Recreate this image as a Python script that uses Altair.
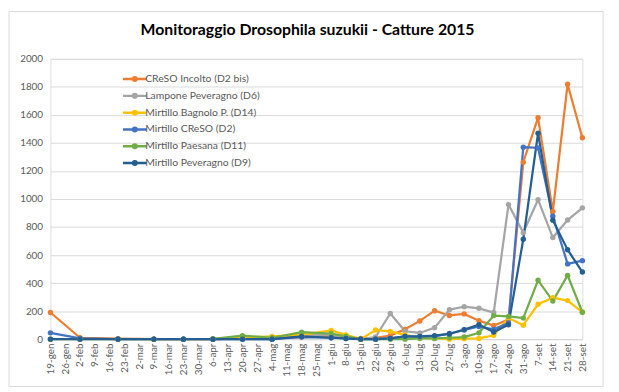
import json
import altair as alt
import pandas as pd

TITLE = "Monitoraggio Drosophila suzukii - Catture 2015"

TICK_LABELS = ["19-gen", "26-gen", "2-feb", "9-feb", "16-feb", "23-feb", "2-mar", "9-mar",
               "16-mar", "23-mar", "30-mar", "6-apr", "13-apr", "20-apr", "27-apr", "4-mag",
               "11-mag", "18-mag", "25-mag", "1-giu", "8-giu", "15-giu", "22-giu", "29-giu",
               "6-lug", "13-lug", "20-lug", "27-lug", "3-ago", "10-ago", "17-ago", "24-ago",
               "31-ago", "7-set", "14-set", "21-set", "28-set"]

# days after 19 January
DAYS = [0, 14, 32, 49, 63, 77, 91, 105, 119, 133, 140, 147, 154, 161, 168, 175, 182,
        189, 196, 203, 210, 217, 224, 231, 238, 245, 252]

SERIES = ["CReSO Incolto (D2 bis)", "Lampone Peveragno (D6)", "Mirtillo Bagnolo P. (D14)",
          "Mirtillo CReSO (D2)", "Mirtillo Paesana (D11)", "Mirtillo Peveragno (D9)"]
COLORS = ["#ED7D31", "#A5A5A5", "#FFC000", "#4472C4", "#70AD47", "#255E91"]

creso_incolto = [190, 10, 3, 0, 0, 0, 5, 5, 15, 20, 15, 5, 10, 25, 70, 130, 203, 169, 180,
                 132, 97, 140, 1263, 1580, 911, 1819, 1437]
lampone_peveragno = [None, None, None, None, None, 0, 5, 10, 30, 30, 10, 0, 15, 183, 56, 44,
                     82, 210, 232, 220, 190, 960, 760, 995, 725, 850, 937]
mirtillo_bagnolo = [None, None, None, None, None, 0, 10, 20, 30, 62, 30, 0, 65, 55, 30, 10,
                    5, 0, 3, 5, 28, 150, 100, 249, 296, 275, 192]
mirtillo_creso = [45, 5, 0, 0, 0, 0, 0, 0, 15, 10, 5, 0, 0, 5, 20, 15, 20, 40, 65, 90, 70,
                  115, 1370, 1365, 877, 537, 560]
mirtillo_paesana = [0, 0, 0, 0, 0, 2, 25, 10, 50, 40, 20, 0, 0, 0, 0, 5, 5, 10, 15, 45, 168,
                    162, 150, 420, 272, 455, 192]
mirtillo_peveragno = [0, 0, 0, 0, 0, 0, 0, 0, 20, 10, 5, 0, 0, 5, 20, 20, 25, 37, 68, 103,
                      51, 103, 713, 1469, 849, 638, 479]

values = [creso_incolto, lampone_peveragno, mirtillo_bagnolo, mirtillo_creso,
          mirtillo_paesana, mirtillo_peveragno]

rows = []
for si, (name, vals) in enumerate(zip(SERIES, values)):
    for d, v in zip(DAYS, vals):
        if v is not None:
            rows.append({"serie": name, "giorno": d, "catture": v, "ord": si})
df = pd.DataFrame(rows)

FONT = "Lato"
GREY_TXT = "#595959"

label_expr = json.dumps(TICK_LABELS) + "[round(datum.value / 7)]"

x = alt.X("giorno:Q",
          scale=alt.Scale(domain=[0, 252], nice=False, zero=False),
          axis=alt.Axis(title=None, values=list(range(0, 253, 7)), labelExpr=label_expr,
                        labelAngle=270, labelFontSize=10, labelColor=GREY_TXT, labelFont=FONT,
                        labelPadding=4, ticks=False, grid=False, domainColor="#D9D9D9",
                        labelOverlap=False))
y = alt.Y("catture:Q",
          scale=alt.Scale(domain=[0, 2000], nice=False),
          axis=alt.Axis(title=None, values=list(range(0, 2001, 200)), format="d",
                        labelFontSize=10, labelColor=GREY_TXT, labelFont=FONT, labelPadding=8,
                        ticks=False, domain=False, gridColor="#D9D9D9", gridWidth=1))
color = alt.Color("serie:N",
                  scale=alt.Scale(domain=SERIES, range=COLORS),
                  legend=alt.Legend(title=None, orient="none", legendX=78, legendY=13,
                                    symbolType="M-2,0L2,0M-0.3,0A0.3,0.3 0 1,1 0.3,0A0.3,0.3 0 1,1 -0.3,0",
                                    symbolSize=144, symbolStrokeWidth=2.5,
                                    labelFont=FONT, labelFontSize=10.5, labelColor=GREY_TXT,
                                    labelOffset=3, rowPadding=2, padding=0))

base = alt.Chart(df)
lines = base.mark_line(strokeWidth=2.25).encode(
    x=x, y=y, color=color, order=alt.Order("giorno:Q"), detail="ord:N")
points = base.mark_circle(size=30, opacity=1).encode(
    x=x, y=y, color=alt.Color("serie:N", scale=alt.Scale(domain=SERIES, range=COLORS),
                              legend=None))

border = alt.Chart(pd.DataFrame({"a": [0]})).mark_rect(
    fillOpacity=0, stroke="#D9D9D9", strokeWidth=1).encode(
    x=alt.value(-42), x2=alt.value(560), y=alt.value(-48), y2=alt.value(332))

chart = alt.layer(border, lines, points).properties(
    width=539, height=284,
    title=alt.TitleParams(TITLE, font=FONT, fontSize=16, fontWeight="bold", color="#000000",
                          anchor="middle", dx=-9, offset=-40, baseline="alphabetic"),
    autosize=alt.AutoSizeParams(type="none"),
    padding={"left": 43, "top": 49, "right": 29, "bottom": 49},
).configure_view(stroke=None).configure(background="white")

chart.save("out.html", embed_options={"renderer": "svg", "actions": False})
